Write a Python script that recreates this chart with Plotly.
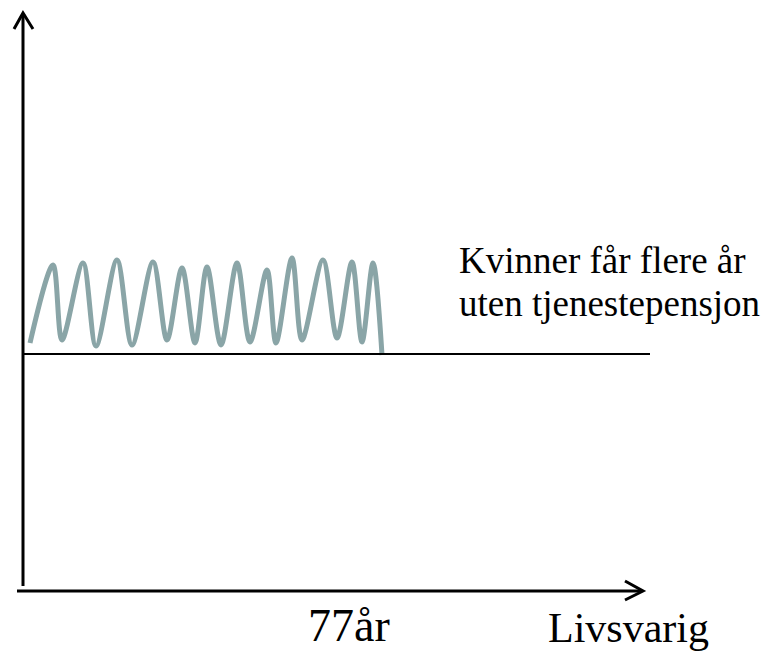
import plotly.graph_objects as go

# Wave (in pixel-like chart units; y grows downward)
wave_x = [30, 53, 62, 83, 96, 117, 132, 153, 167, 182, 195, 207, 221, 237, 250, 267, 276, 292, 302, 323, 337, 352, 362, 373, 382]
wave_y = [343, 265, 340, 263, 346, 260, 345, 262, 340, 268, 343, 267, 345, 263, 342, 270, 343, 258, 340, 260, 338, 262, 342, 263, 355]

ref_level = 354
text_label = ["Kvinner får flere år", "uten tjenestepensjon"]
x_labels = ["77år", "Livsvarig"]

W, H = 769, 653
OFF = 8  # page body margin
fig = go.Figure()

fig.add_trace(go.Scatter(
    x=wave_x, y=wave_y, mode="lines",
    line=dict(color="#8aa5a7", width=5, shape="spline", smoothing=0.9),
    hoverinfo="skip", showlegend=False))

# reference horizontal line
fig.add_trace(go.Scatter(x=[22, 650], y=[ref_level, ref_level], mode="lines",
                         line=dict(color="black", width=2), showlegend=False, hoverinfo="skip"))

shapes = [
    # vertical axis
    dict(type="line", x0=23, x1=23, y0=586, y1=14, line=dict(color="black", width=3)),
    dict(type="path", path="M 14 29 L 23 13 L 33 29", line=dict(color="black", width=3)),
    # horizontal axis
    dict(type="line", x0=17, x1=642, y0=591, y1=591, line=dict(color="black", width=3)),
    dict(type="path", path="M 625 581 L 643 591 L 625 600", line=dict(color="black", width=3)),
]

serif = "Liberation Serif, Times New Roman, serif"
annotations = [
    dict(x=457, y=260, text=text_label[0], showarrow=False, xanchor="left", yanchor="middle",
         font=dict(family=serif, size=37, color="black")),
    dict(x=457, y=303, text=text_label[1], showarrow=False, xanchor="left", yanchor="middle",
         font=dict(family=serif, size=37, color="black")),
    dict(x=349, y=H, text=x_labels[0], showarrow=False, xanchor="center", yanchor="bottom",
         font=dict(family=serif, size=46, color="black")),
    dict(x=628, y=H, text=x_labels[1], showarrow=False, xanchor="center", yanchor="bottom",
         font=dict(family=serif, size=42, color="black")),
]

fig.update_layout(
    width=W - OFF, height=H - OFF, margin=dict(l=0, r=0, t=0, b=0),
    paper_bgcolor="white", plot_bgcolor="white",
    xaxis=dict(range=[OFF, W], visible=False, fixedrange=True),
    yaxis=dict(range=[H, OFF], visible=False, fixedrange=True),
    shapes=shapes, annotations=annotations, showlegend=False,
)

fig.write_html("out.html", config={"displayModeBar": False})
